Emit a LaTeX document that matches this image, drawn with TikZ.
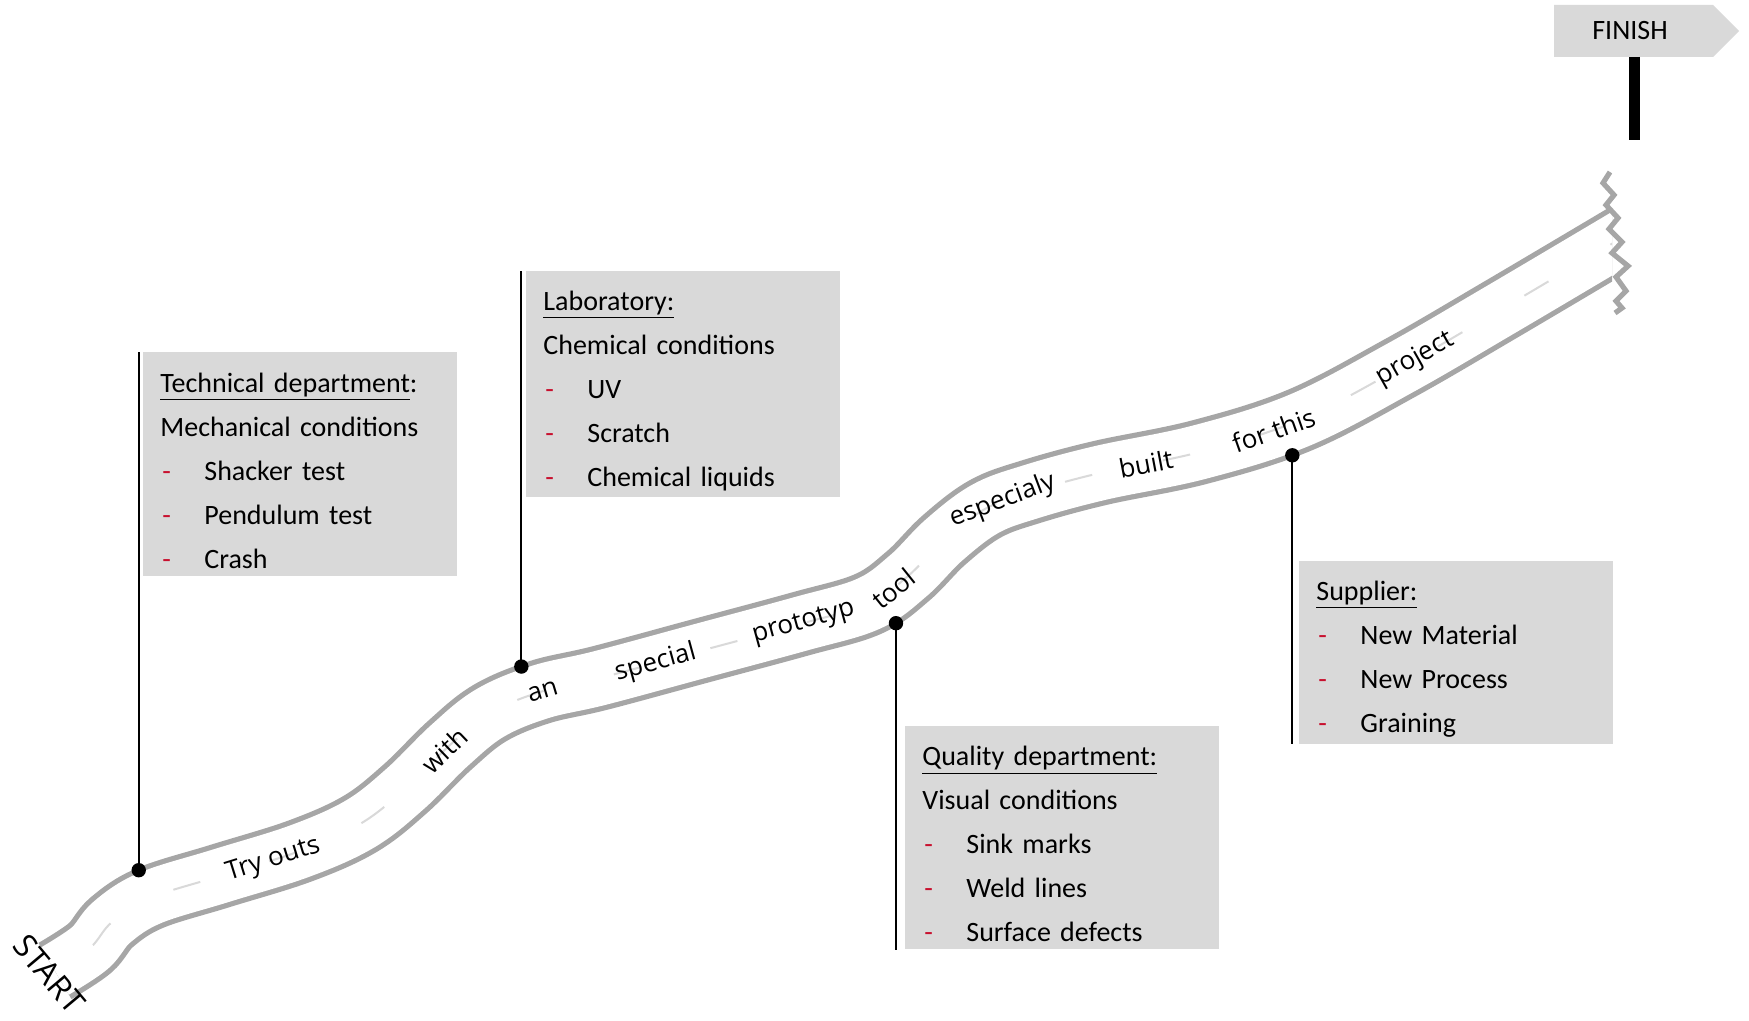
\documentclass[tikz,border=0pt]{standalone}
\usepackage{fontspec}
\setmainfont{Carlito}
\newfontfamily\roadfont{Open Sans}
\usepackage{tikz}
\usetikzlibrary{decorations.markings}
\definecolor{boxgray}{HTML}{D9D9D9}
\definecolor{edgegray}{HTML}{A6A6A6}
\definecolor{stripegray}{HTML}{D9D9D9}
\definecolor{dashred}{HTML}{C8102E}
\newcommand{\listentry}[1]{\makebox[22pt][l]{\hspace{1pt}\textcolor{dashred}{-}}#1}
\newcommand{\boxtop}{\rule{0pt}{16pt}}
\newcommand{\roadline}{plot[smooth, tension=0.6] coordinates {(55,971) (90,948) (112,922) (150,898) (220,876) (300,851) (360,824) (405,789) (450,745) (490,713) (540,692) (600,678) (700,651) (800,624) (868,604) (908,576) (944,540) (985,509) (1030,492) (1100,473) (1200,452) (1300,420) (1400,368) (1500,310) (1625,236)}}
\tikzset{
    road/.style = {draw=edgegray, line width=2.6pt, double=white, double distance=27.4pt},
    road-stripe/.style = {draw=stripegray, line width=1pt, dash pattern=on 14pt off 36pt, dash phase=27pt},
    road-edge/.style = {draw=edgegray, line width=2.6pt},
    road-word/.style = {font=\roadfont\fontsize{13}{15}\selectfont, transform shape, inner sep=0pt},
    start-label/.style = {font=\roadfont\fontsize{16}{18}\selectfont, rotate=-50, inner sep=0pt},
    info-box/.style = {fill=boxgray, anchor=north west, align=left, text width=140pt, inner xsep=8.5pt, font=\fontsize{14}{22}\selectfont},
    sign-text/.style = {font=\fontsize{14}{16}\selectfont},
    pin-line/.style = {draw=black, line width=1pt},
    pin-dot/.style = {fill=black},
}
\begin{document}
\begin{tikzpicture}[x=0.5pt, y=-0.5pt]
\useasboundingbox (0,0) rectangle (1749,1021);

\begin{scope}
\clip (0,0) rectangle (1612,1021);
\draw[road] \roadline;
\draw[road-stripe] \roadline;
\end{scope}
\draw[road-edge] (1610,172) -- (1603,183) -- (1614,195) -- (1606,205) -- (1618,218) -- (1609,229) -- (1622,242) -- (1612,253) -- (1628,266) -- (1616,277) -- (1626,291) -- (1616,301) -- (1622,308) -- (1615,313);

\path[decorate, decoration={markings,
    mark=at position 0.069 with {\coordinate (d1) at (0pt,15pt);},
    mark=at position 0.142 with {\node[road-word] (w1) {Try outs};},
    mark=at position 0.259 with {\node[road-word] (w2) {with};},
    mark=at position 0.318 with {\coordinate (d2) at (0pt,15pt);},
    mark=at position 0.325 with {\node[road-word] (w3) {an};},
    mark=at position 0.391 with {\node[road-word] (w4) {special};},
    mark=at position 0.478 with {\node[road-word] (w5) {prototyp};},
    mark=at position 0.524 with {\coordinate (d3) at (0pt,-15pt);},
    mark=at position 0.533 with {\node[road-word] (w6) {tool};},
    mark=at position 0.613 with {\node[road-word] (w7) {especialy};},
    mark=at position 0.697 with {\node[road-word] (w8) {built};},
    mark=at position 0.772 with {\node[road-word] (w9) {for this};},
    mark=at position 0.777 with {\coordinate (d4) at (0pt,-15pt);},
    mark=at position 0.862 with {\node[road-word] (w10) {project};}
}] \roadline;

\node[start-label] (start) at (49,974) {START};

\fill[boxgray] (1554,5) -- (1713,5) -- (1739,31) -- (1713,57) -- (1554,57) -- cycle;
\node[sign-text] (finish) at (1630,31) {FINISH};
\coordinate (post-top) at (1634,57);
\coordinate (post-bottom) at (1634,140);
\draw[line width=5.5pt] (post-top) -- (post-bottom);

\node[info-box, minimum height=112pt] (tech) at (143,352) {\boxtop\underline{Technical department}:\\Mechanical conditions\\\listentry{Shacker test}\\\listentry{Pendulum test}\\\listentry{Crash}};
\node[info-box, minimum height=111pt] (lab) at (526,271) {\boxtop\underline{Laboratory:}\\Chemical conditions\\\listentry{UV}\\\listentry{Scratch}\\\listentry{Chemical liquids}};
\node[info-box, minimum height=111.5pt] (quality) at (905,726) {\boxtop\underline{Quality department:}\\Visual conditions\\\listentry{Sink marks}\\\listentry{Weld lines}\\\listentry{Surface defects}};
\node[info-box, minimum height=91pt] (supplier) at (1299,561) {\boxtop\underline{Supplier:}\\\listentry{New Material}\\\listentry{New Process}\\\listentry{Graining}};

\draw[pin-line] (d1) -- (d1 |- tech.north);
\draw[pin-line] (d2) -- (d2 |- lab.north);
\draw[pin-line] (d3) -- (d3 |- quality.south);
\draw[pin-line] (d4) -- (d4 |- supplier.south);
\fill[pin-dot] (d1) circle (3.6pt);
\fill[pin-dot] (d2) circle (3.6pt);
\fill[pin-dot] (d3) circle (3.6pt);
\fill[pin-dot] (d4) circle (3.6pt);
\end{tikzpicture}
\end{document}
